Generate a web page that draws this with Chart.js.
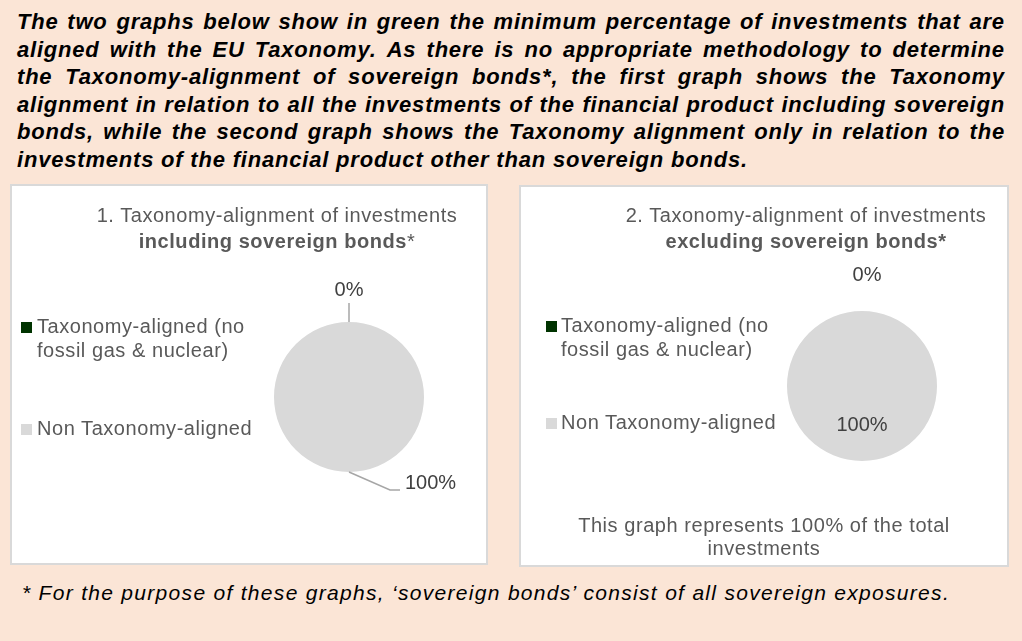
<!DOCTYPE html>
<html>
<head>
<meta charset="utf-8">
<script src="https://cdn.jsdelivr.net/npm/chart.js@4.4.1/dist/chart.umd.min.js"></script>
<style>
  body { margin: 0; width: 1022px; height: 641px; background: #fbe5d6; position: relative; overflow: hidden;
         font-family: "Liberation Sans", Arial, sans-serif; }
  #intro { position: absolute; left: 17px; top: 8px; width: 988px; color: #000;
           font: bold italic 22px/27.6px "Liberation Sans", Arial, sans-serif; letter-spacing: 0.8px; }
  #intro .line { display: flex; justify-content: space-between; white-space: nowrap; }
  #intro .last { white-space: nowrap; }
  .panel { position: absolute; background: #fff; border: 2px solid #d9d9d9; box-sizing: border-box; }
  .panel canvas { position: absolute; left: 0; top: 0; }
  .txt { position: absolute; color: #595959; font-size: 20px; letter-spacing: 0.55px; white-space: nowrap;
         transform: translate(-50%, -50%); }
  .legend-item { position: absolute; color: #595959; font-size: 20px; line-height: 23.5px; letter-spacing: 0.55px; width: 230px; }
  .legend-box { position: absolute; width: 11px; height: 11px; }
  #note { position: absolute; left: 564px; top: 514px; width: 400px; text-align: center; color: #595959;
          font-size: 20px; line-height: 23px; letter-spacing: 0.55px; }
  #foot { position: absolute; left: 22px; top: 581px; color: #000; white-space: nowrap;
          font: italic 21px "Liberation Sans", Arial, sans-serif; letter-spacing: 1.3px; }
</style>
</head>
<body>
<div id="intro"></div>

<div class="panel" id="p1" style="left:10px;top:184px;width:478px;height:381px;">
  <canvas id="chart1" width="474" height="377"></canvas>
</div>
<div class="panel" id="p2" style="left:519px;top:185px;width:490px;height:382px;">
  <canvas id="chart2" width="486" height="378"></canvas>
</div>

<div class="txt" style="left:277px;top:215px;">1. Taxonomy-alignment of investments</div>
<div class="txt" style="left:277px;top:241px;font-weight:bold;">including sovereign bonds<span style="font-weight:normal">*</span></div>
<div class="txt" style="left:806px;top:215px;">2. Taxonomy-alignment of investments</div>
<div class="txt" style="left:806px;top:241px;font-weight:bold;">excluding sovereign bonds*</div>

<div id="note">This graph represents 100% of the total investments</div>
<div id="foot">* For the purpose of these graphs, ‘sovereign bonds’ consist of all sovereign exposures.</div>

<script>
// intro text, one entry per line as it is broken in the picture
const introLines = [
  'The two graphs below show in green the minimum percentage of investments that are',
  'aligned with the EU Taxonomy. As there is no appropriate methodology to determine',
  'the Taxonomy-alignment of sovereign bonds*, the first graph shows the Taxonomy',
  'alignment in relation to all the investments of the financial product including sovereign',
  'bonds, while the second graph shows the Taxonomy alignment only in relation to the',
  'investments of the financial product other than sovereign bonds.'
];

// chart data
const categories = ['Taxonomy-aligned (no fossil gas & nuclear)', 'Non Taxonomy-aligned'];
const includingSovereign = [0, 100];
const excludingSovereign = [0, 100];

const sliceColors = ['#003300', '#d9d9d9'];

// build the justified intro
const intro = document.getElementById('intro');
introLines.forEach(function(line, i) {
  const div = document.createElement('div');
  if (i < introLines.length - 1) {
    div.className = 'line';
    line.split(' ').forEach(function(w) {
      const s = document.createElement('span');
      s.textContent = w;
      div.appendChild(s);
    });
  } else {
    div.className = 'last';
    div.textContent = line;
  }
  intro.appendChild(div);
});

// html legend next to each pie
function buildLegend(boxX, textX, rowsY) {
  categories.forEach(function(cat, i) {
    const box = document.createElement('div');
    box.className = 'legend-box';
    box.style.left = boxX + 'px';
    box.style.top = (rowsY[i] - 5) + 'px';
    box.style.background = sliceColors[i];
    document.body.appendChild(box);
    const item = document.createElement('div');
    item.className = 'legend-item';
    item.style.left = textX + 'px';
    item.style.top = (rowsY[i] - 12) + 'px';
    item.textContent = cat;
    document.body.appendChild(item);
  });
}
buildLegend(21, 37, [327, 429]);
buildLegend(546, 561, [326, 423]);

// percentage labels with optional leader lines
const pctLabels = {
  id: 'pctLabels',
  afterDatasetsDraw(chart, args, opts) {
    const ctx = chart.ctx;
    const ds = chart.data.datasets[0];
    const total = ds.data.reduce(function(a, b) { return a + b; }, 0);
    chart.getDatasetMeta(0).data.forEach(function(arc, i) {
      const spec = opts.items[i];
      const mid = (arc.startAngle + arc.endAngle) / 2;
      const ex = arc.x + Math.cos(mid) * arc.outerRadius;
      const ey = arc.y + Math.sin(mid) * arc.outerRadius;
      ctx.save();
      if (spec.leader) {
        ctx.strokeStyle = '#a6a6a6';
        ctx.lineWidth = 1.5;
        ctx.beginPath();
        ctx.moveTo(ex, ey);
        spec.leader.forEach(function(p) { ctx.lineTo(ex + p[0], ey + p[1]); });
        ctx.stroke();
      }
      const tx = ex + Math.cos(mid) * spec.out + (spec.dx || 0);
      const ty = ey + Math.sin(mid) * spec.out + (spec.dy || 0);
      ctx.fillStyle = '#404040';
      ctx.font = '20px "Liberation Sans", Arial, sans-serif';
      ctx.textAlign = spec.align || 'center';
      ctx.textBaseline = 'middle';
      ctx.fillText(Math.round(ds.data[i] / total * 100) + '%', tx, ty);
      ctx.restore();
    });
  }
};

function makePie(id, values, padding, items) {
  return new Chart(id, {
    type: 'pie',
    data: {
      labels: categories,
      datasets: [{
        data: values,
        backgroundColor: sliceColors,
        borderWidth: 0
      }]
    },
    options: {
      responsive: false,
      animation: false,
      events: [],
      layout: { padding: padding },
      plugins: {
        legend: { display: false },
        tooltip: { enabled: false },
        pctLabels: { items: items }
      }
    },
    plugins: [pctLabels]
  });
}

makePie('chart1', includingSovereign,
  { left: 262, top: 136, right: 62, bottom: 91 },
  [
    { out: 32, leader: [[0, -19]] },
    { out: 0, dx: 56, dy: 11, align: 'left', leader: [[41, 18], [51, 18]] }
  ]);

makePie('chart2', excludingSovereign,
  { left: 266, top: 124, right: 70, bottom: 104 },
  [
    { out: 36, dx: 5 },
    { out: -36 }
  ]);
</script>
</body>
</html>
